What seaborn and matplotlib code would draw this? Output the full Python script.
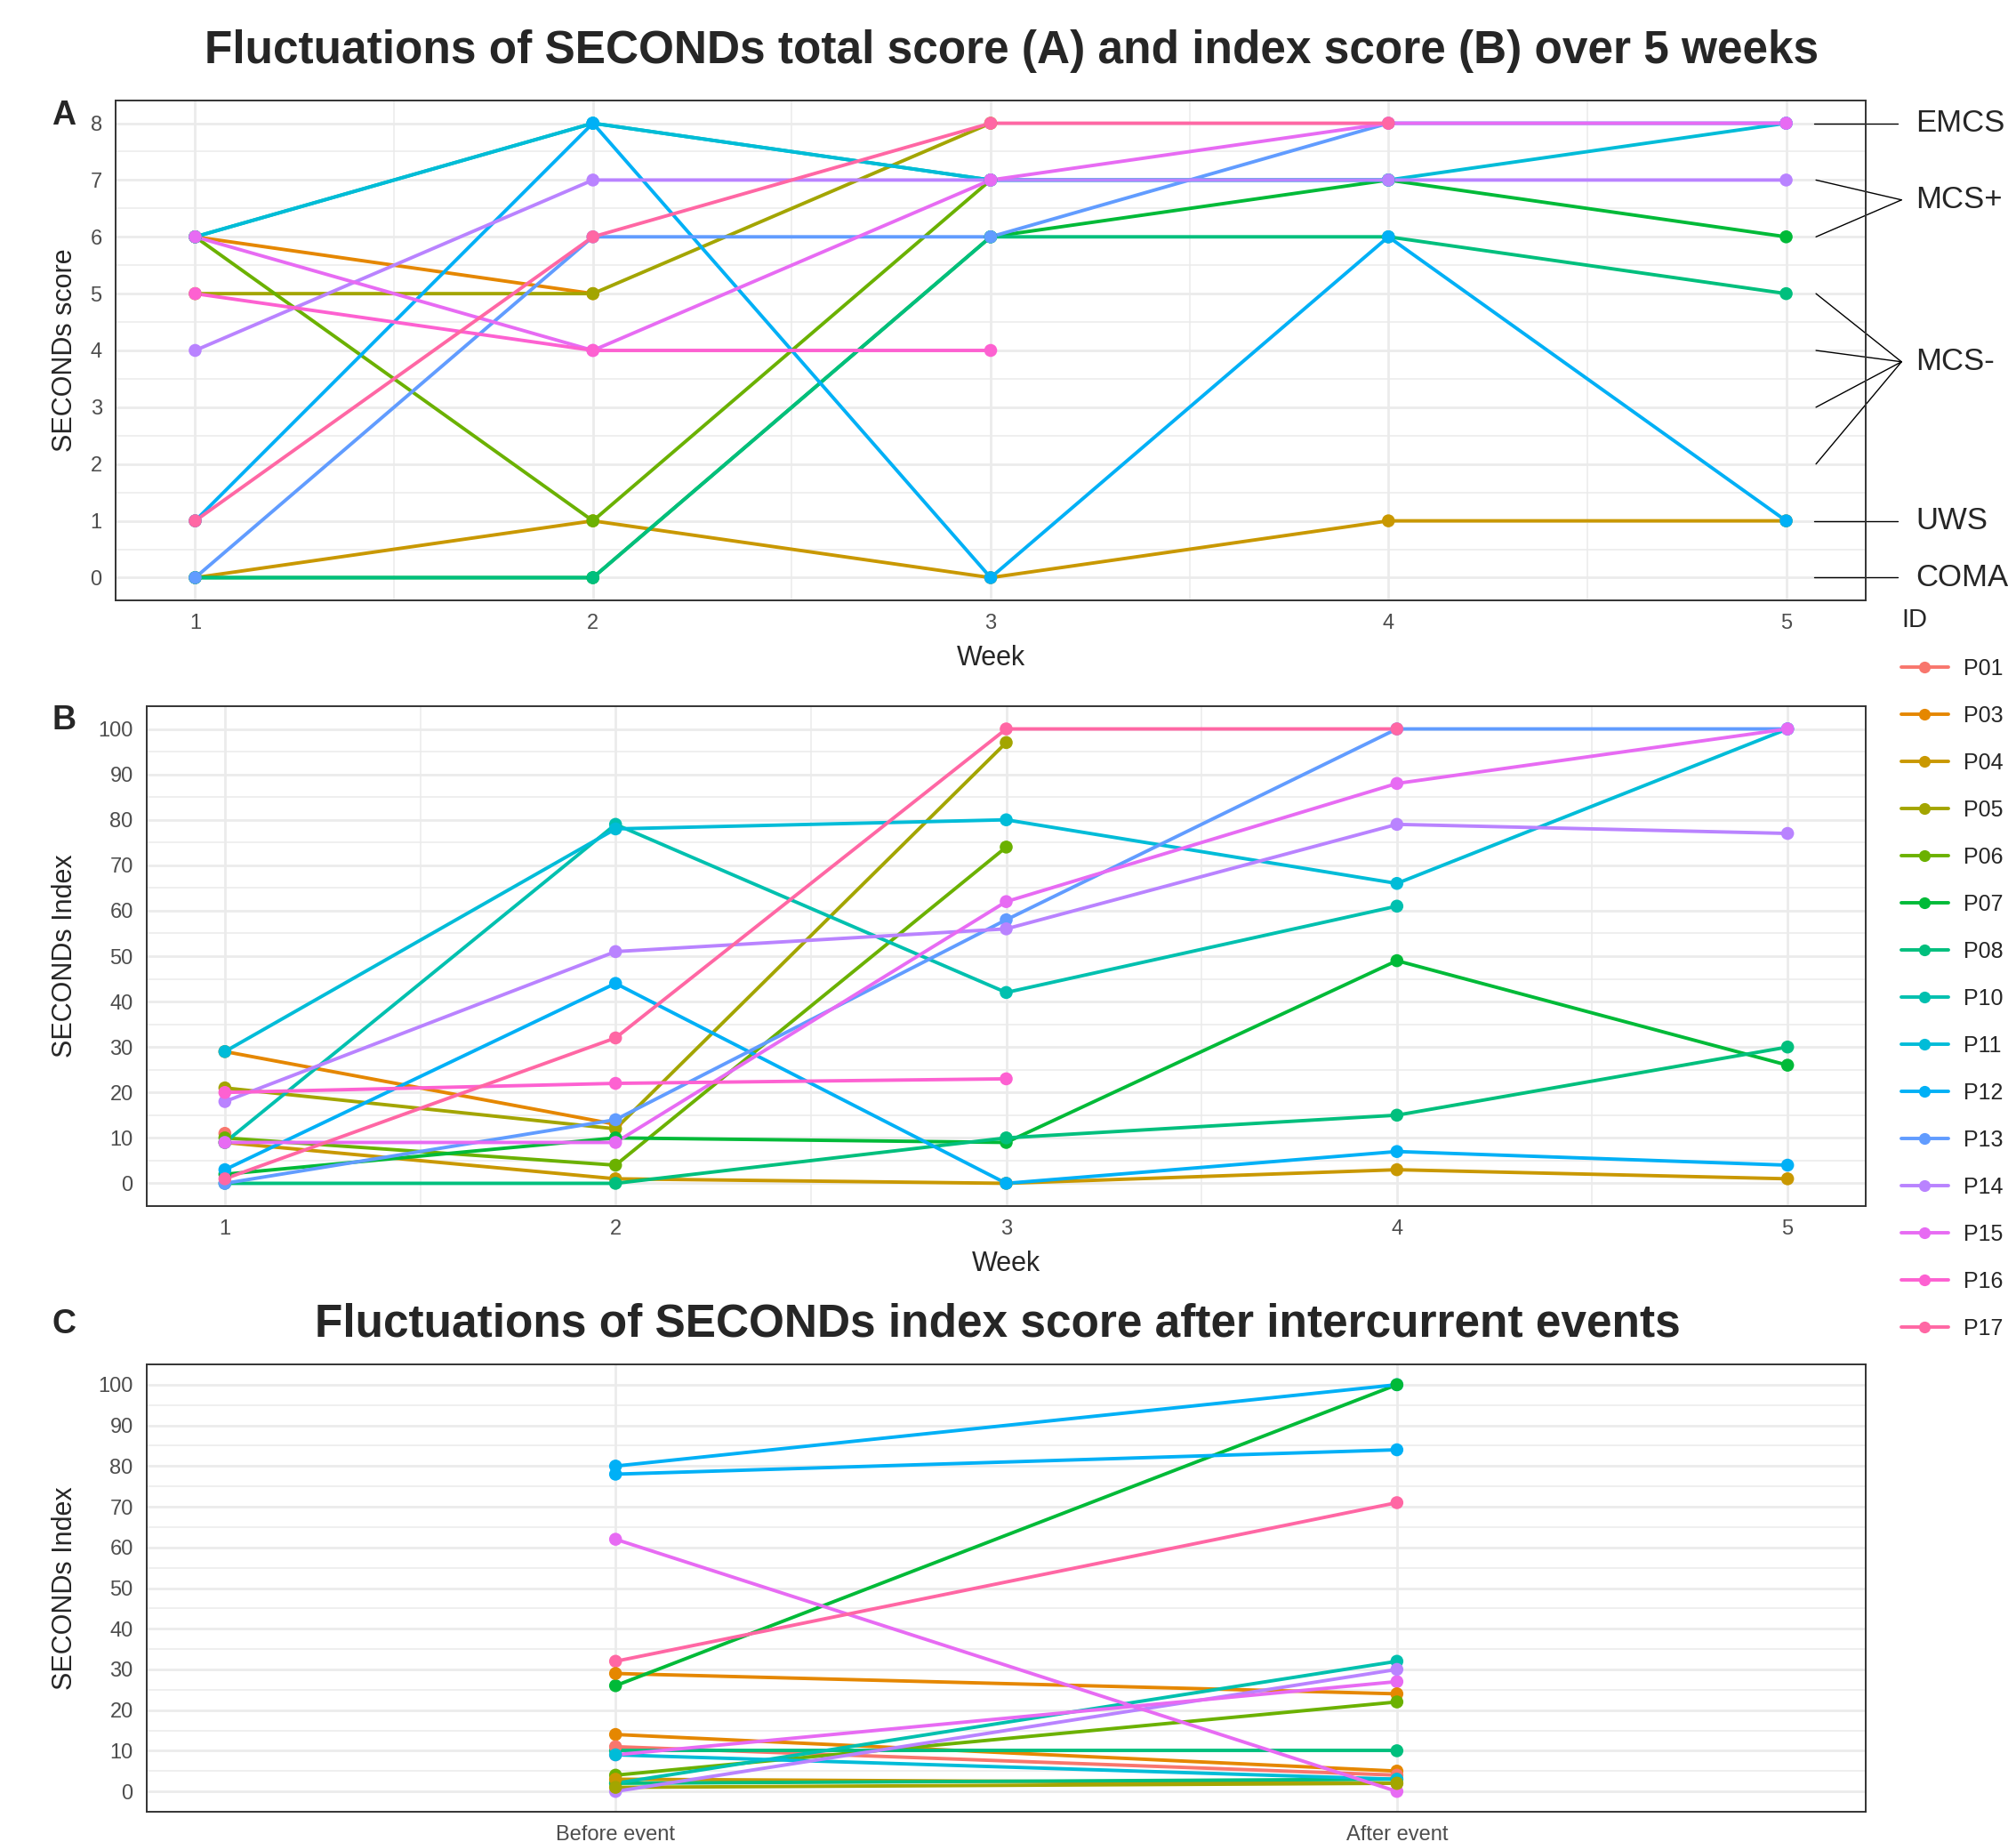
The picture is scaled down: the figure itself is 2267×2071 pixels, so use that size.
import numpy as np
import pandas as pd
import matplotlib
matplotlib.use("Agg")
import matplotlib.pyplot as plt
import seaborn as sns
from matplotlib.lines import Line2D
from matplotlib.ticker import MultipleLocator

nan = np.nan

ids = ["P01", "P03", "P04", "P05", "P06", "P07", "P08", "P10",
       "P11", "P12", "P13", "P14", "P15", "P16", "P17"]
colors = ["#F8766D", "#E58700", "#C99800", "#A3A500", "#6BB100", "#00BA38",
          "#00BF7D", "#00C0AF", "#00BCD8", "#00B0F6", "#619CFF", "#B983FF",
          "#E76BF3", "#FD61D1", "#FF67A4"]
weeks = [1, 2, 3, 4, 5]

# panel A: SECONDs total score per week
total_score = {
    "P01": [1, nan, nan, nan, nan],
    "P03": [6, 5, nan, nan, nan],
    "P04": [0, 1, 0, 1, 1],
    "P05": [5, 5, 8, nan, nan],
    "P06": [6, 1, 7, nan, nan],
    "P07": [0, 0, 6, 7, 6],
    "P08": [0, 0, 6, 6, 5],
    "P10": [6, 8, 7, 7, nan],
    "P11": [6, 8, 7, 7, 8],
    "P12": [1, 8, 0, 6, 1],
    "P13": [0, 6, 6, 8, 8],
    "P14": [4, 7, 7, 7, 7],
    "P15": [6, 4, 7, 8, 8],
    "P16": [5, 4, 4, nan, nan],
    "P17": [1, 6, 8, 8, nan],
}

# panel B: SECONDs index per week
index_score = {
    "P01": [11, nan, nan, nan, nan],
    "P03": [29, 13, nan, nan, nan],
    "P04": [9, 1, 0, 3, 1],
    "P05": [21, 12, 97, nan, nan],
    "P06": [10, 4, 74, nan, nan],
    "P07": [2, 10, 9, 49, 26],
    "P08": [0, 0, 10, 15, 30],
    "P10": [9, 79, 42, 61, nan],
    "P11": [29, 78, 80, 66, 100],
    "P12": [3, 44, 0, 7, 4],
    "P13": [0, 14, 58, 100, 100],
    "P14": [18, 51, 56, 79, 77],
    "P15": [9, 9, 62, 88, 100],
    "P16": [20, 22, 23, nan, nan],
    "P17": [1, 32, 100, 100, nan],
}

# panel C: index before / after intercurrent events
phases = ["Before event", "After event"]
event_patient = ["P12", "P12", "P07", "P17", "P15", "P15", "P03", "P03", "P10",
                 "P14", "P06", "P08", "P08", "P01", "P11", "P04", "P05"]
before_event = [80, 78, 26, 32, 62, 9, 29, 14, 2, 0, 4, 10, 2, 11, 9, 3, 1]
after_event = [100, 84, 100, 71, 0, 27, 24, 5, 32, 30, 22, 10, 3, 4, 3, 2, 2]

# consciousness states shown at the right of panel A
states = ["EMCS", "MCS+", "MCS-", "UWS", "COMA"]
state_levels = [[8], [7, 6], [5, 4, 3, 2], [1], [0]]
state_label_y = [8, 6.65, 3.8, 1, 0]


def long_table(scores):
    rows = []
    for pid in ids:
        for w, v in zip(weeks, scores[pid]):
            if not np.isnan(v):
                rows.append((pid, w, v))
    return pd.DataFrame(rows, columns=["ID", "Week", "value"])


dfA = long_table(total_score)
dfB = long_table(index_score)
rows = []
for k, (pid, b, a) in enumerate(zip(event_patient, before_event, after_event)):
    rows.append((pid, k, phases[0], b))
    rows.append((pid, k, phases[1], a))
dfC = pd.DataFrame(rows, columns=["ID", "event", "phase", "value"])

sns.set_style("white")
plt.rcParams["font.family"] = ["Liberation Sans", "DejaVu Sans"]
pal = dict(zip(ids, colors))

W, H = 2267, 2071
fig = plt.figure(figsize=(W / 100, H / 100), dpi=100)


def box(l, r, t, b):
    return [l / W, 1 - b / H, (r - l) / W, (b - t) / H]


axA = fig.add_axes(box(130, 2098, 113, 675))
axB = fig.add_axes(box(165, 2098, 794, 1356))
axC = fig.add_axes(box(165, 2098, 1534, 2037))

LW = 2.8
PS = 110


def draw(ax, df, x, units):
    sns.lineplot(data=df, x=x, y="value", hue="ID", hue_order=ids, palette=pal,
                 units=units, estimator=None, sort=False, linewidth=LW,
                 legend=False, ax=ax)
    sns.scatterplot(data=df, x=x, y="value", hue="ID", hue_order=ids,
                    palette=pal, s=PS, linewidth=0, legend=False, ax=ax,
                    zorder=5)


draw(axA, dfA, "Week", "ID")
draw(axB, dfB, "Week", "ID")
draw(axC, dfC, "phase", "event")


def style(ax, ymaj, ymin, xminor=True):
    ax.yaxis.set_major_locator(MultipleLocator(ymaj))
    ax.yaxis.set_minor_locator(MultipleLocator(ymin))
    if xminor:
        ax.xaxis.set_minor_locator(MultipleLocator(0.5))
    ax.grid(True, which="major", color="#EBEBEB", linewidth=2.0, zorder=0)
    ax.grid(True, which="minor", color="#EBEBEB", linewidth=1.1, zorder=0)
    ax.set_axisbelow(True)
    for s in ax.spines.values():
        s.set_color("#333333")
        s.set_linewidth(1.4)
    ax.tick_params(which="major", length=7, width=1.6, color="#333333",
                   labelsize=17, labelcolor="#4D4D4D", pad=4)
    ax.tick_params(which="minor", length=0)


axA.set_xlim(0.8, 5.2)
axA.set_ylim(-0.4, 8.4)
axA.set_xticks(weeks)
style(axA, 1, 0.5)
axA.set_xlabel("Week", fontsize=22)
axA.set_ylabel("SECONDs score", fontsize=22)
axA.xaxis.set_label_coords(0.5, -0.089)
axA.yaxis.set_label_coords(-0.0215, 0.5)

axB.set_xlim(0.8, 5.2)
axB.set_ylim(-5, 105)
axB.set_xticks(weeks)
style(axB, 10, 5)
axB.set_xlabel("Week", fontsize=22)
axB.set_ylabel("SECONDs Index", fontsize=22)
axB.xaxis.set_label_coords(0.5, -0.089)
axB.yaxis.set_label_coords(-0.040, 0.5)

axC.set_xlim(-0.6, 1.6)
axC.set_ylim(-5, 105)
style(axC, 10, 5, xminor=False)
axC.set_xlabel("")
axC.set_ylabel("SECONDs Index", fontsize=22)
axC.yaxis.set_label_coords(-0.040, 0.5)

# state brackets on the right of panel A
for name, levels, ly in zip(states, state_levels, state_label_y):
    for lv in levels:
        if len(levels) == 1:
            axA.plot([5.07, 5.28], [lv, lv], color="black", lw=1.0, clip_on=False)
        else:
            axA.plot([5.075, 5.29], [lv, ly], color="black", lw=1.0, clip_on=False)
    axA.text(5.325, ly, name, fontsize=25, ha="left", va="center",
             clip_on=False)

fig.text(0.502, 1 - 58 / H,
         "Fluctuations of SECONDs total score (A) and index score (B) over 5 weeks",
         fontsize=37, fontweight="bold", ha="center", va="center")
fig.text(0.495, 1 - 1489 / H,
         "Fluctuations of SECONDs index score after intercurrent events",
         fontsize=37, fontweight="bold", ha="center", va="center")
for letter, yy in zip(["A", "B", "C"], [130, 810, 1489]):
    fig.text(72 / W, 1 - yy / H, letter, fontsize=27, fontweight="bold",
             ha="center", va="center")

handles = [Line2D([0], [0], color=c, lw=LW, marker="o", markersize=9.5,
                  markeredgewidth=0) for c in colors]
leg = fig.legend(handles, ids, title="ID", loc="upper left",
                 bbox_to_anchor=(2138 / W, 1 - 683 / H), frameon=False,
                 fontsize=18, title_fontsize=21, labelspacing=1.16,
                 handlelength=2.1, handletextpad=0.7, borderpad=0,
                 borderaxespad=0)
leg._legend_box.align = "left"

fig.savefig("out.png", dpi=100)
